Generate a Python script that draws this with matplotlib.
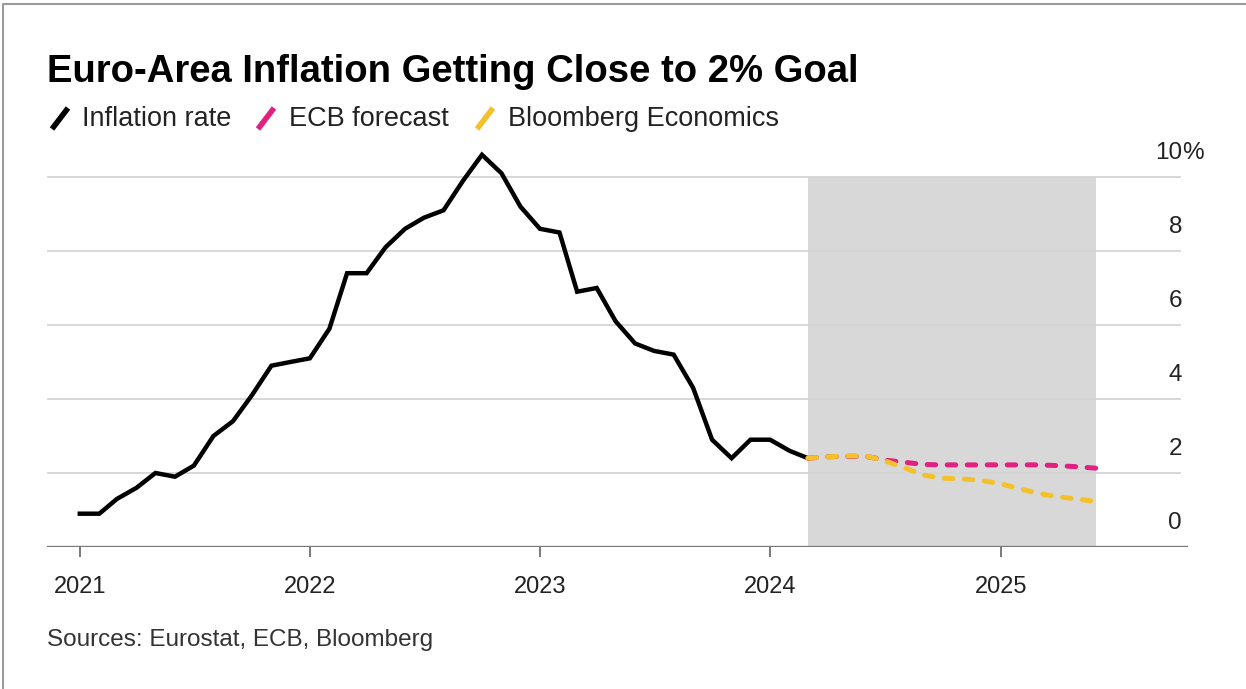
import numpy as np
import pandas as pd
import matplotlib
matplotlib.use("Agg")
import matplotlib.pyplot as plt
from matplotlib.lines import Line2D
from matplotlib.transforms import offset_copy

plt.rcParams['font.family'] = ['Liberation Sans', 'DejaVu Sans']

# euro-area HICP, y/y %
months = pd.date_range("2021-01-01", "2024-03-01", freq="MS")
inflation = [0.9, 0.9, 1.3, 1.6, 2.0, 1.9, 2.2, 3.0, 3.4, 4.1, 4.9, 5.0,
             5.1, 5.9, 7.4, 7.4, 8.1, 8.6, 8.9, 9.1, 9.9, 10.6, 10.1, 9.2,
             8.6, 8.5, 6.9, 7.0, 6.1, 5.5, 5.3, 5.2, 4.3, 2.9, 2.4, 2.9,
             2.9, 2.6, 2.4]

# forecast paths
fc_months = pd.date_range("2024-03-01", "2025-06-01", freq="MS")
ecb_fc = [2.4, 2.44, 2.45, 2.45, 2.35, 2.29, 2.23, 2.22, 2.22, 2.22, 2.22,
          2.22, 2.22, 2.2, 2.17, 2.13]
bbg_fc = [2.4, 2.44, 2.46, 2.46, 2.33, 2.14, 1.94, 1.86, 1.84, 1.80, 1.71,
          1.57, 1.45, 1.36, 1.30, 1.23]

years = ["2021", "2022", "2023", "2024", "2025"]
y_ticks = [0, 2, 4, 6, 8, 10]

W, H = 1246, 689
fig = plt.figure(figsize=(W / 100, H / 100), dpi=100)
fig.patch.set_facecolor("white")

def fx(px):
    return px / W

def fy(py):
    return 1 - py / H

# plot area: baseline at y=547px, top at y=140px
left, right = 47, 1188
ax = fig.add_axes([fx(left), fy(547), fx(right) - fx(left), fy(140) - fy(547)])
ax.set_xlim(pd.Timestamp("2021-01-01") - pd.Timedelta(days=52),
            pd.Timestamp("2025-01-01") + pd.Timedelta(days=297))
ax.set_ylim(0, 11)
for s in ax.spines.values():
    s.set_visible(False)

# forecast window
ax.fill_between([fc_months[0], fc_months[-1]], 0, 10, color="#d8d8d8",
                lw=0, zorder=1)

xfrac = (1180 - left) / (right - left)
for v in y_ticks[1:]:
    ax.axhline(v, xmin=0, xmax=xfrac, color="#d4d4d4", lw=1.3, zorder=2)
ax.axhline(0, color="#7a7a7a", lw=2.4, zorder=5)

ax.plot(months, inflation, color="black", lw=3.2, zorder=6,
        solid_joinstyle="miter")
ax.plot(fc_months, ecb_fc, color="#e0217f", lw=3.6, zorder=6,
        linestyle=(0, (1.7, 2.3)), dash_capstyle="round")
ax.plot(fc_months, bbg_fc, color="#f4c12a", lw=3.6, zorder=7,
        linestyle=(0, (1.7, 2.3)), dash_capstyle="round")

ax.set_xticks([pd.Timestamp(y + "-01-01") for y in years])
ax.set_xticklabels(years)
ax.tick_params(axis="x", length=7, width=1.1, color="#555555", pad=14,
               labelsize=17, labelcolor="#222222")
ax.set_yticks([])

# y labels sit above their gridlines on the right
lbl_x = (1182 - left) / (right - left)
lbl_tr = offset_copy(ax.get_yaxis_transform(), fig=fig, x=0, y=24 * 0.72,
                     units="points")
for v in y_ticks:
    ax.text(lbl_x, v, str(v), transform=lbl_tr, ha="right", va="center",
            fontsize=17.5, color="#222222")
    if v == 10:
        ax.text(lbl_x, v, "%", transform=lbl_tr, ha="left", va="center",
                fontsize=17.5, color="#222222")

fig.text(fx(47), fy(72), "Euro-Area Inflation Getting Close to 2% Goal",
         fontsize=27.5, fontweight="bold", va="center", ha="left",
         color="black")

legend = [("Inflation rate", "black", 60, 82),
          ("ECB forecast", "#e0217f", 266, 289),
          ("Bloomberg Economics", "#f4c12a", 485, 508)]
for label, col, ix, tx in legend:
    fig.add_artist(Line2D([fx(ix - 8), fx(ix + 8)], [fy(129), fy(108)],
                          color=col, lw=4, solid_capstyle="butt"))
    fig.text(fx(tx), fy(119), label, fontsize=19.5, va="center", ha="left",
             color="#222222")

fig.text(fx(47), fy(640), "Sources: Eurostat, ECB, Bloomberg", fontsize=17.5,
         va="center", ha="left", color="#333333")

# outer frame
fig.add_artist(Line2D([fx(3), fx(3), fx(1246)], [fy(689), fy(4), fy(4)],
                      color="#9a9a9a", lw=1.5))

fig.savefig("out.png", dpi=100, facecolor="white")
